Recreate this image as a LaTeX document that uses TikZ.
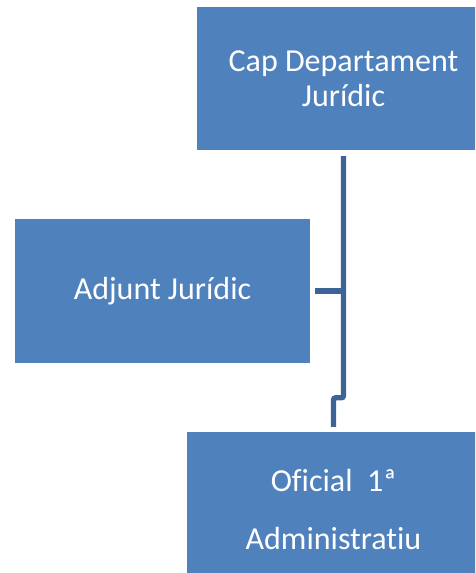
\documentclass[tikz,border=0pt]{standalone}
\usepackage{fontspec}
\setmainfont{Carlito}[Ligatures=NoCommon]
\definecolor{boxblue}{HTML}{4F81BD}
\definecolor{lineblue}{HTML}{3E6497}

\begin{document}
\begin{tikzpicture}[x=1pt,y=-1pt,
  unit/.style={rectangle,fill=boxblue,text=white,inner sep=0pt,minimum width=293pt,minimum height=143pt,align=center,font=\fontsize{32}{35}\selectfont},
  conn/.style={draw=lineblue,line width=5.2pt,rounded corners=2pt}]
  \useasboundingbox (0,0) rectangle (475,573);
  \clip (0,0) rectangle (475,573);
  \node[unit] (cap) at (343.5,78.5) {Cap Departament\\Jurídic};
  \node[unit,minimum width=295pt,minimum height=144pt] (adj) at (162.5,291) {Adjunt Jurídic};
  \node[unit,text height=92pt] (ofi) at (333.5,503.5) {Oficial~~1ª\\[23pt]Administratiu};
  \coordinate (jog) at ([yshift=34pt]ofi.north);
  \draw[conn,shorten <=6pt,shorten >=5pt](cap.south)--(cap.south |- jog)-|(ofi.north);
  \draw[conn,shorten <=5pt](adj.east)--(adj.east -| cap.south);
\end{tikzpicture}
\end{document}
